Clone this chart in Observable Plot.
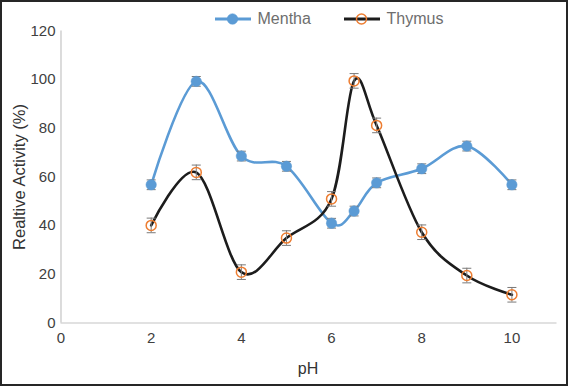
<!DOCTYPE html>
<html>
<head>
<meta charset="utf-8">
<script src="https://cdn.jsdelivr.net/npm/d3@7"></script>
<script src="https://cdn.jsdelivr.net/npm/@observablehq/plot@0.6"></script>
<style>
  html, body { margin: 0; padding: 0; background: #fff; }
  #wrap { position: relative; width: 568px; height: 386px; box-sizing: border-box; border: 2px solid #262626; background: #fff; font-family: "Liberation Sans", Arial, sans-serif; overflow: hidden; }
  #chart { position: absolute; left: 0; top: 0; width: 564px; height: 382px; }
  #chart svg { display: block; max-width: none; }
  .leg { position: absolute; display: flex; align-items: center; font-size: 16px; color: #6e6e6e; white-space: nowrap; line-height: 1; }
  .leg svg { margin-right: 6.5px; }
  .title { position: absolute; font-size: 15px; color: #333; white-space: nowrap; line-height: 1; }
  #err { position: absolute; left: 70px; top: 60px; font-size: 11px; color: red; width: 450px; white-space: pre-wrap; }
</style>
</head>
<body>
<div id="wrap">
  <div id="chart"></div>
  <div id="err"></div>
</div>
<script>
const phValues = [2, 3, 4, 5, 6, 6.5, 7, 8, 9, 10];
const menthaValues = [56.8, 99.3, 68.6, 64.4, 41.0, 46.0, 57.6, 63.4, 72.7, 56.8];
const menthaErrors = [2, 2, 2, 2, 2, 2, 2, 2, 2, 2];
const thymusValues = [40.1, 61.9, 20.9, 34.9, 51.0, 99.5, 81.2, 37.3, 19.5, 11.6];
const thymusErrors = [3, 3, 3, 3, 3, 3, 3, 3, 3, 3];
const seriesNames = ["Mentha", "Thymus"];
const xTicks = [0, 2, 4, 6, 8, 10];
const yTicks = [0, 20, 40, 60, 80, 100, 120];
const xLabel = "pH";
const yLabel = "Realtive Activity (%)";

const blue = "#5B9BD5", orange = "#ED7D31", black = "#1c1c1c", errGray = "#7a7a7a";

const mentha = phValues.map((x, i) => ({x, y: menthaValues[i], e: menthaErrors[i]}));
const thymus = phValues.map((x, i) => ({x, y: thymusValues[i], e: thymusErrors[i]}));
const cap = 0.1;

function errMarks(data) {
  return [
    Plot.ruleX(data, {x: "x", y1: d => d.y - d.e, y2: d => d.y + d.e, stroke: errGray, strokeWidth: 1}),
    Plot.link(data, {x1: d => d.x - cap, x2: d => d.x + cap, y1: d => d.y + d.e, y2: d => d.y + d.e, stroke: errGray, strokeWidth: 1}),
    Plot.link(data, {x1: d => d.x - cap, x2: d => d.x + cap, y1: d => d.y - d.e, y2: d => d.y - d.e, stroke: errGray, strokeWidth: 1})
  ];
}

try {
const plot = Plot.plot({
  width: 564,
  height: 382,
  marginLeft: 58.5,
  marginRight: 9.5,
  marginTop: 28.5,
  marginBottom: 61.5,
  style: {fontFamily: '"Liberation Sans", Arial, sans-serif', fontSize: "15px", color: "#404040", background: "transparent"},
  x: {domain: [0, 11], ticks: xTicks, tickSize: 0, tickPadding: 9, label: null},
  y: {domain: [0, 120], ticks: yTicks, tickSize: 0, tickPadding: 5.5, label: null},
  marks: [
    Plot.ruleY([0], {stroke: "#c4c4c4", strokeWidth: 1.2}),
    Plot.ruleX([0], {stroke: "#c4c4c4", strokeWidth: 1.2}),
    Plot.line(mentha, {x: "x", y: "y", curve: "cardinal", tension: 0, stroke: blue, strokeWidth: 2.6}),
    Plot.line(thymus, {x: "x", y: "y", curve: "cardinal", tension: 0, stroke: black, strokeWidth: 2.6}),
    ...errMarks(mentha),
    ...errMarks(thymus),
    Plot.dot(mentha, {x: "x", y: "y", r: 5.2, fill: blue, stroke: blue, strokeWidth: 0.5}),
    Plot.dot(thymus, {x: "x", y: "y", r: 5, fill: "none", stroke: orange, strokeWidth: 1.5})
  ]
});
document.getElementById("chart").appendChild(plot);
} catch (e) {
  document.getElementById("err").textContent = String(e && e.stack || e);
}

const wrap = document.getElementById("wrap");
function legendItem(name, left, lineColor, dotFill, dotStroke) {
  const d = document.createElement("div");
  d.className = "leg";
  d.style.left = (left - 2) + "px";
  d.style.top = (19 - 2 - 8) + "px";
  d.style.height = "16px";
  d.innerHTML = `<svg width="36" height="16"><line x1="0" x2="36" y1="8" y2="8" stroke="${lineColor}" stroke-width="3"/><circle cx="17.5" cy="8" r="${dotFill === 'none' ? 5 : 5.3}" fill="${dotFill}" stroke="${dotStroke}" stroke-width="${dotFill === 'none' ? 1.5 : 0.5}"/></svg><span>${name}</span>`;
  wrap.appendChild(d);
}
legendItem(seriesNames[0], 215, blue, blue, blue);
legendItem(seriesNames[1], 344, black, "none", orange);

const yt = document.createElement("div");
yt.className = "title";
yt.textContent = yLabel;
yt.style.fontSize = "16.5px";
yt.style.left = (18.5 - 2) + "px";
yt.style.top = (177 - 2) + "px";
yt.style.transform = "translate(-50%, -50%) rotate(-90deg)";
wrap.appendChild(yt);

const xt = document.createElement("div");
xt.className = "title";
xt.textContent = xLabel;
xt.style.fontSize = "16px";
xt.style.left = (308 - 2) + "px";
xt.style.top = (369 - 2) + "px";
xt.style.transform = "translate(-50%, -50%)";
wrap.appendChild(xt);
</script>
</body>
</html>
